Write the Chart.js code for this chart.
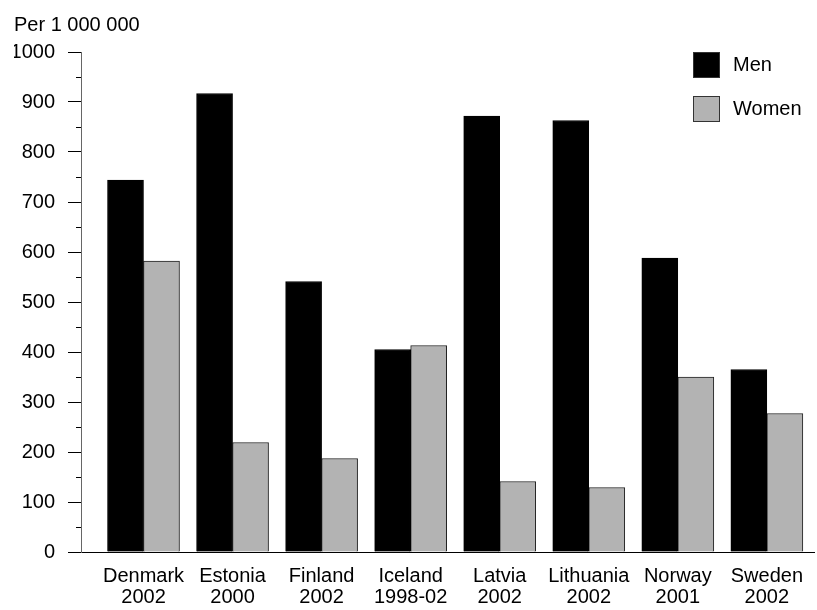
<!DOCTYPE html>
<html>
<head>
<meta charset="utf-8">
<script src="https://cdn.jsdelivr.net/npm/chart.js@4"></script>
<style>
  html, body { margin: 0; padding: 0; background: #fff; }
  #wrap { width: 817px; height: 610px; }
</style>
</head>
<body>
<div id="wrap"><canvas id="myChart"></canvas></div>
<script>
const countries = ['Denmark', 'Estonia', 'Finland', 'Iceland', 'Latvia', 'Lithuania', 'Norway', 'Sweden'];
const years = ['2002', '2000', '2002', '1998-02', '2002', '2002', '2001', '2002'];
const men = [744, 917, 541, 405, 872, 863, 588, 365];
const women = [582, 219, 187, 413, 141, 129, 350, 277];
const yTicks = [0, 100, 200, 300, 400, 500, 600, 700, 800, 900, 1000];

const FONT = 'Liberation Sans, Arial, sans-serif';
Chart.defaults.font.family = FONT;
Chart.defaults.font.size = 20;
Chart.defaults.color = '#000';

// legend drawn by hand, top right, boxes left of text
const boxLegend = {
    id: 'boxLegend',
    afterDraw(chart) {
        const c = chart.ctx;
        c.save();
        c.font = '20px ' + FONT;
        c.textBaseline = 'middle';
        chart.data.datasets.forEach((ds, i) => {
            let y = 52 + i * 44;
            c.fillStyle = ds.backgroundColor;
            c.fillRect(693, y, 27, 26);
            c.strokeStyle = '#333';
            c.lineWidth = 1;
            c.strokeRect(693.5, y + 0.5, 26, 25);
            c.fillStyle = '#000';
            c.fillText(ds.label, 733, y + 13);
        });
        c.restore();
    }
};

const ctx = document.getElementById('myChart').getContext('2d');
const myChart = new Chart(ctx, {
    type: 'bar',
    data: {
        datasets: [{
            label: 'Men',
            data: men.map((v, i) => ({x: i, y: v})),
            backgroundColor: '#000000',
            borderColor: '#000000',
            borderWidth: 1,
            barThickness: 36
        }, {
            label: 'Women',
            data: women.map((v, i) => ({x: i, y: v})),
            backgroundColor: '#b3b3b3',
            borderColor: '#222222',
            borderWidth: 1,
            barThickness: 36
        }]
    },
    options: {
        responsive: true,
        maintainAspectRatio: false,
        animation: false,
        layout: { padding: { left: 14, right: 0, top: 0, bottom: 0 } },
        plugins: {
            legend: { display: false },
            tooltip: { enabled: false },
            title: {
                display: true,
                text: 'Per 1 000 000',
                align: 'start',
                color: '#000',
                font: { size: 20, weight: 'normal' },
                padding: { top: 13, bottom: 15 }
            }
        },
        scales: {
            x: {
                type: 'linear',
                offset: false,
                min: -0.702,
                max: 7.537,
                afterBuildTicks: (scale) => {
                    scale.ticks = countries.map((c, i) => ({ value: i }));
                },
                afterFit: (scale) => { scale.height = 58; },
                grid: { display: false, drawTicks: false },
                border: { display: true, color: '#000', width: 1 },
                ticks: {
                    padding: 14,
                    maxRotation: 0,
                    autoSkip: false,
                    font: { size: 20, lineHeight: 1.05 },
                    callback: (v) => [countries[v], years[v]]
                }
            },
            y: {
                min: 0,
                max: 1000,
                afterFit: (scale) => { scale.width = 67; },
                afterBuildTicks: (scale) => {
                    // major ticks every 100, minor ones halfway
                    let t = [];
                    yTicks.forEach((v, i) => {
                        t.push({ value: v });
                        if (i < yTicks.length - 1) t.push({ value: v + 50 });
                    });
                    scale.ticks = t;
                },
                grid: {
                    drawOnChartArea: false,
                    tickLength: 13,
                    tickColor: '#000',
                    tickBorderDash: (c) => (c.tick && yTicks.includes(c.tick.value)) ? [] : [0, 8, 5, 100]
                },
                border: { display: true, color: '#666', width: 1 },
                ticks: {
                    padding: 13,
                    autoSkip: false,
                    callback: (v) => yTicks.includes(v) ? v : ''
                }
            }
        }
    },
    plugins: [boxLegend]
});
</script>
</body>
</html>
